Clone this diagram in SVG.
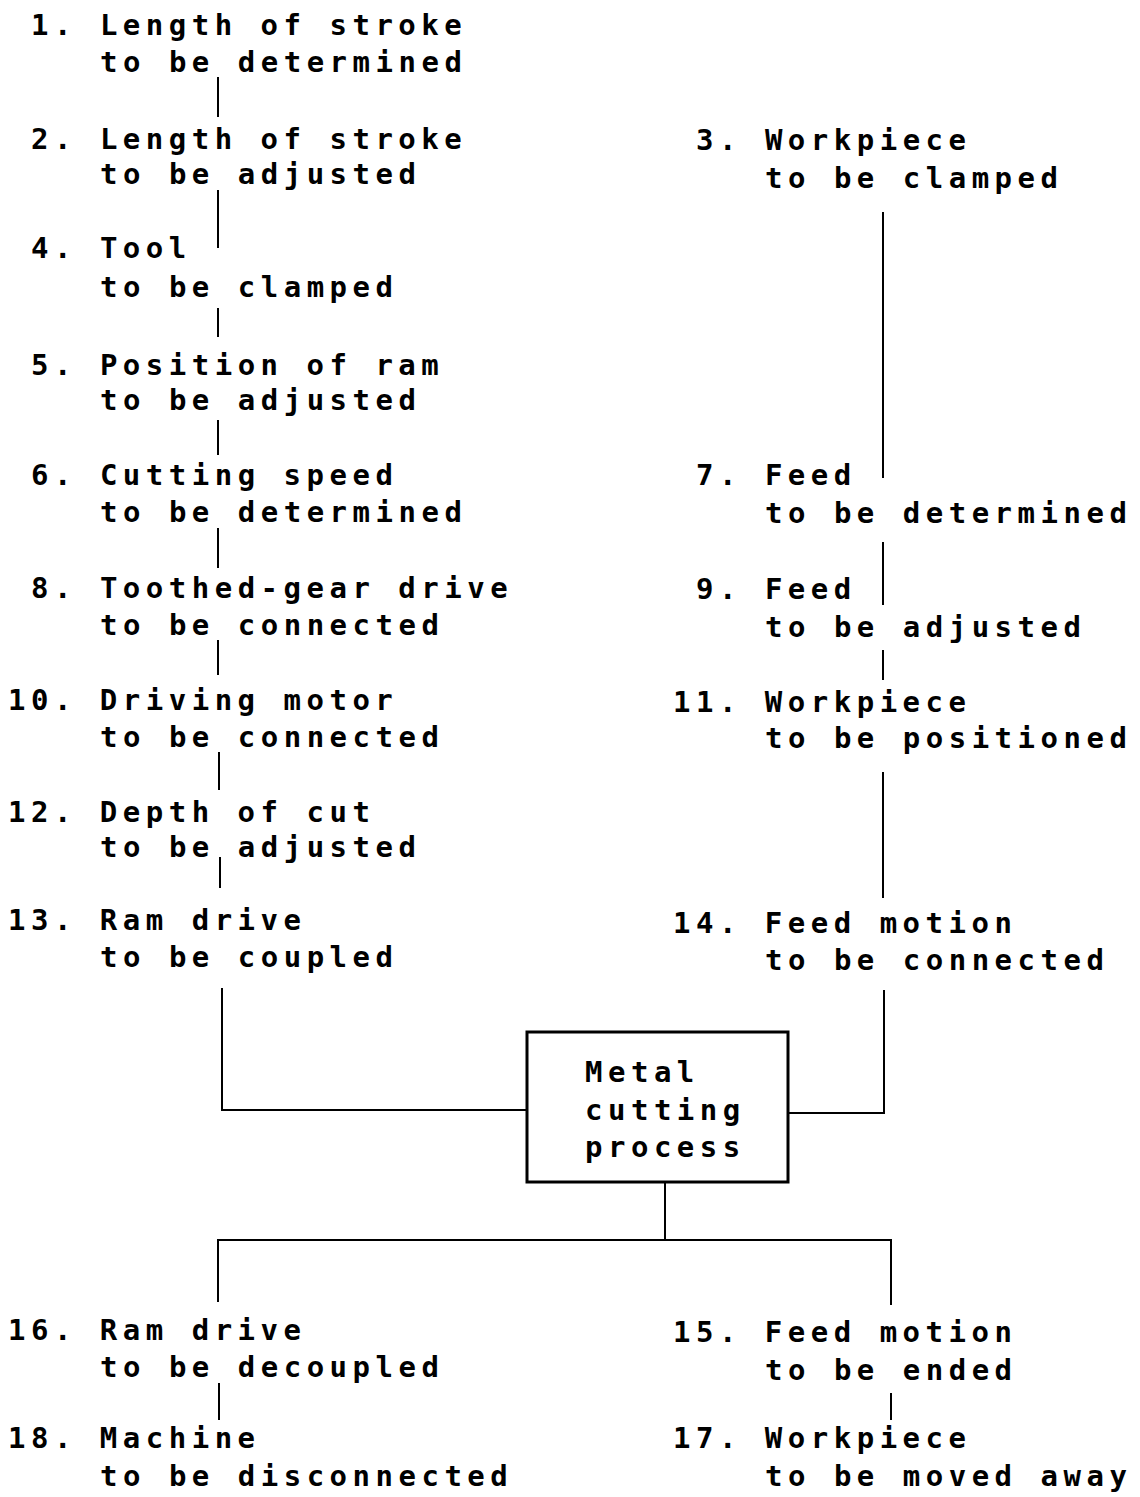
<svg xmlns="http://www.w3.org/2000/svg" width="1140" height="1497" viewBox="0 0 1140 1497">
<style>
text{font-family:"DejaVu Sans Mono","Liberation Mono",monospace;font-size:29px;font-weight:bold;letter-spacing:5.5px;fill:#000;white-space:pre}
.c line,.c polyline{stroke:#000;stroke-width:2;fill:none}
.box{fill:#fff;stroke:#000;stroke-width:3}
</style>
<rect width="1140" height="1497" fill="#fff"/>
<g class="c" id="connectors">
<line x1="218" y1="77" x2="218" y2="117"/>
<line x1="218" y1="190" x2="218" y2="248"/>
<line x1="218" y1="308" x2="218" y2="337"/>
<line x1="218" y1="420" x2="218" y2="455"/>
<line x1="218" y1="528" x2="218" y2="568"/>
<line x1="218" y1="640" x2="218" y2="675"/>
<line x1="219" y1="752" x2="219" y2="790"/>
<line x1="220" y1="857" x2="220" y2="888"/>
<polyline points="222,988 222,1110 527,1110"/>
<line x1="883" y1="212" x2="883" y2="478"/>
<line x1="883" y1="542" x2="883" y2="605"/>
<line x1="883" y1="650" x2="883" y2="680"/>
<line x1="883" y1="772" x2="883" y2="898"/>
<polyline points="884,990 884,1113 788,1113"/>
<line x1="665" y1="1182" x2="665" y2="1240"/>
<polyline points="218,1302 218,1240 891,1240 891,1305"/>
<line x1="219" y1="1383" x2="219" y2="1420"/>
<line x1="891" y1="1393" x2="891" y2="1420"/>
</g>
<g id="n1"><text x="31" y="35">1. Length of stroke</text><text x="100" y="72">to be determined</text></g>
<g id="n2"><text x="31" y="149">2. Length of stroke</text><text x="100" y="184">to be adjusted</text></g>
<g id="n4"><text x="31" y="258">4. Tool</text><text x="100" y="297">to be clamped</text></g>
<g id="n5"><text x="31" y="375">5. Position of ram</text><text x="100" y="410">to be adjusted</text></g>
<g id="n6"><text x="31" y="485">6. Cutting speed</text><text x="100" y="522">to be determined</text></g>
<g id="n8"><text x="31" y="598">8. Toothed-gear drive</text><text x="100" y="635">to be connected</text></g>
<g id="n10"><text x="8" y="710">10. Driving motor</text><text x="100" y="747">to be connected</text></g>
<g id="n12"><text x="8" y="822">12. Depth of cut</text><text x="100" y="857">to be adjusted</text></g>
<g id="n13"><text x="8" y="930">13. Ram drive</text><text x="100" y="967">to be coupled</text></g>
<g id="n3"><text x="696" y="150">3. Workpiece</text><text x="765" y="188">to be clamped</text></g>
<g id="n7"><text x="696" y="485">7. Feed</text><text x="765" y="523">to be determined</text></g>
<g id="n9"><text x="696" y="599">9. Feed</text><text x="765" y="637">to be adjusted</text></g>
<g id="n11"><text x="673" y="712">11. Workpiece</text><text x="765" y="748">to be positioned</text></g>
<g id="n14"><text x="673" y="933">14. Feed motion</text><text x="765" y="970">to be connected</text></g>
<g id="process"><rect class="box" x="527" y="1032" width="261" height="150"/><text x="585" y="1082">Metal</text><text x="585" y="1120">cutting</text><text x="585" y="1157">process</text></g>
<g id="n16"><text x="8" y="1340">16. Ram drive</text><text x="100" y="1377">to be decoupled</text></g>
<g id="n18"><text x="8" y="1448">18. Machine</text><text x="100" y="1486">to be disconnected</text></g>
<g id="n15"><text x="673" y="1342">15. Feed motion</text><text x="765" y="1380">to be ended</text></g>
<g id="n17"><text x="673" y="1448">17. Workpiece</text><text x="765" y="1486">to be moved away</text></g>
</svg>
